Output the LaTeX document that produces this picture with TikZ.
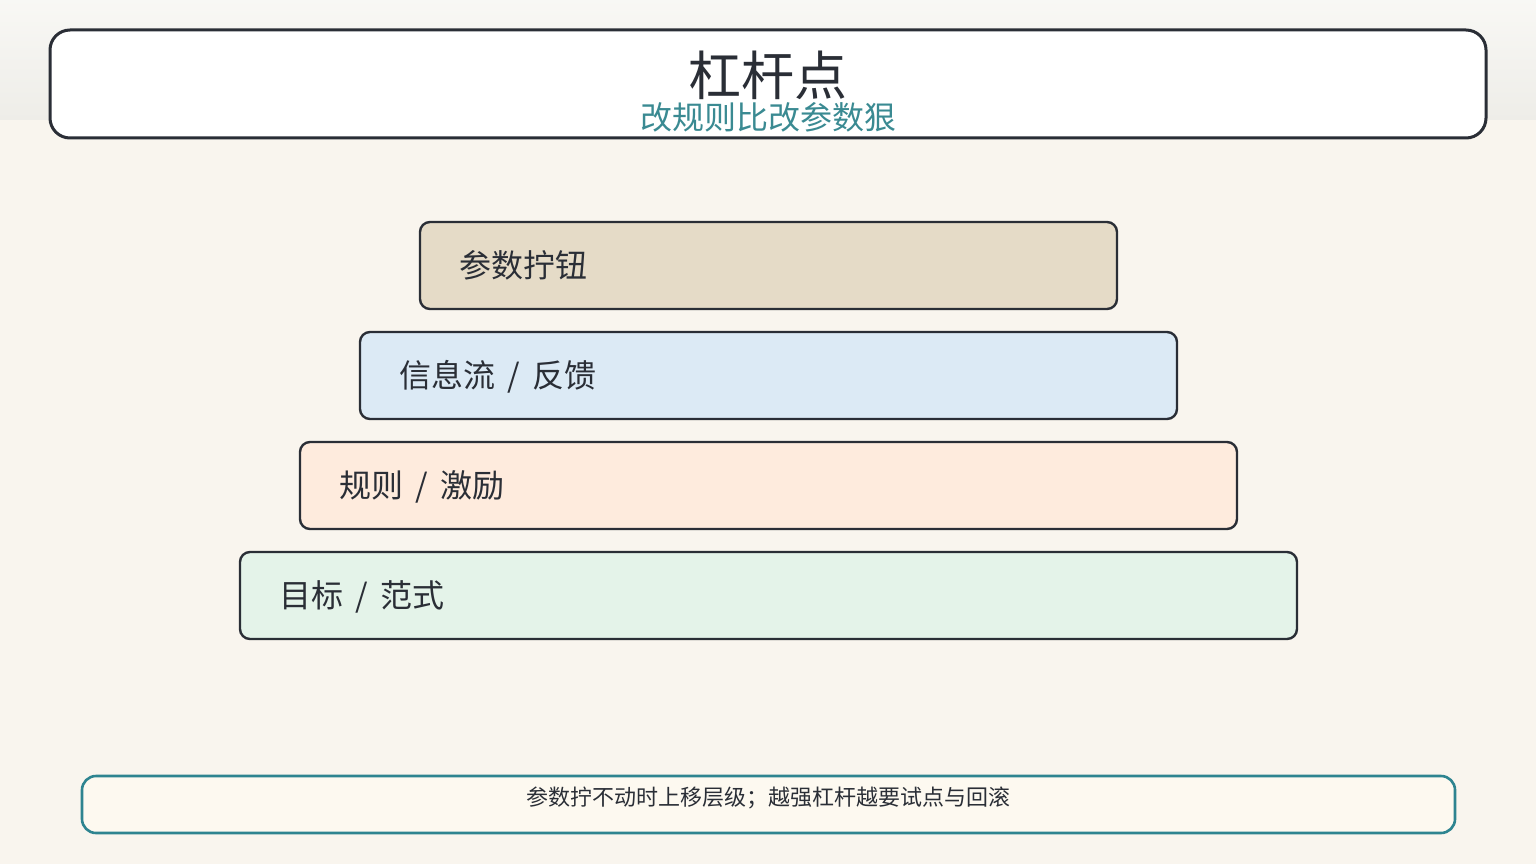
\documentclass[tikz,border=0pt]{standalone}
\usepackage{fontspec}
\setmainfont{Noto Sans CJK SC}
\newfontfamily\cjk{Noto Sans CJK SC}
\definecolor{bgmain}{HTML}{F9F5EE}
\definecolor{bgtop}{HTML}{F4F3EE}
\definecolor{bgtopb}{HTML}{EEEDE8}
\definecolor{ink}{HTML}{2A2E36}
\definecolor{teal}{HTML}{3A8A92}
\definecolor{tealb}{HTML}{2E8490}
\definecolor{fa}{HTML}{E5DBC7}
\definecolor{fb}{HTML}{DCEAF5}
\definecolor{fc}{HTML}{FEEBDD}
\definecolor{fd}{HTML}{E4F3E9}
\definecolor{fnote}{HTML}{FDF9F0}
\newcommand{\sepsl}{\hspace{12.5pt}/\hspace{12.5pt}}
\tikzset{
  layer/.style={draw=ink, line width=2.4pt, rounded corners=10pt},
  layertext/.style={anchor=west, inner sep=0pt, text=ink, font=\cjk\fontsize{32}{38}\selectfont},
}
\begin{document}
\begin{tikzpicture}[x=1pt,y=-1pt]
\useasboundingbox (0,0) rectangle (1536,864);
\fill[bgmain] (0,0) rectangle (1536,864);
\shade[top color=bgtop!60!white, bottom color=bgtopb] (0,0) rectangle (1536,120);
% title box
\draw[ink, line width=3pt, fill=white, rounded corners=20pt] (50,30) rectangle (1486,138);
\node[inner sep=0pt, text=ink, font=\cjk\fontsize{53}{60}\selectfont] (title) at (768,75) {杠杆点};
\node[inner sep=0pt, text=teal, font=\cjk\fontsize{32}{38}\selectfont] (subtitle) at (768,117) {改规则比改参数狠};
% layers
\draw[layer, fill=fa] (420,222) rectangle (1117,309);
\node[layertext] (l1) at (459,265) {参数拧钮};
\draw[layer, fill=fb] (360,332) rectangle (1177,419);
\node[layertext] (l2) at (399,377) {信息流\sepsl 反馈};
\draw[layer, fill=fc] (300,442) rectangle (1237,529);
\node[layertext] (l3) at (339,487) {规则\sepsl 激励};
\draw[layer, fill=fd] (240,552) rectangle (1297,639);
\node[layertext] (l4) at (279,597) {目标\sepsl 范式};
% note
\draw[draw=tealb, line width=2.6pt, fill=fnote, rounded corners=14pt] (82,776) rectangle (1455,833);
\node[inner sep=0pt, text=ink, font=\cjk\fontsize{22}{26}\selectfont] (note) at (768,798) {参数拧不动时上移层级；越强杠杆越要试点与回滚};
\end{tikzpicture}
\end{document}
